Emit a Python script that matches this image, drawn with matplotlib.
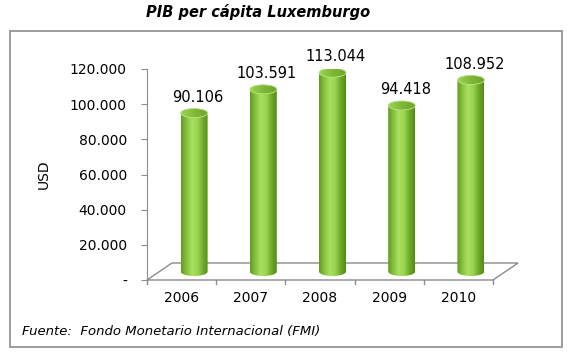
import numpy as np
import matplotlib
matplotlib.use("Agg")
import matplotlib.pyplot as plt
from matplotlib.path import Path
from matplotlib.patches import PathPatch, Ellipse, Polygon, Rectangle
from matplotlib.colors import LinearSegmentedColormap

# ==== DATA ====
years  = ["2006", "2007", "2008", "2009", "2010"]
values = [90106, 103591, 113044, 94418, 108952]
labels = ["90.106", "103.591", "113.044", "94.418", "108.952"]
yticks = [0, 20000, 40000, 60000, 80000, 100000, 120000]
ytick_labels = ["-", "20.000", "40.000", "60.000", "80.000", "100.000", "120.000"]

# ==== LAYOUT (pixels of a 572x354 figure) ====
W, H = 572, 354
fig = plt.figure(figsize=(W / 100, H / 100), dpi=100)
plt.rcParams['font.family'] = ['DejaVu Sans']

# outer frame round chart + footer
fig.patches.append(Rectangle((10 / W, (H - 347) / H), 552 / W, 316 / H,
                             transform=fig.transFigure, fill=False,
                             edgecolor="#8c8c8c", linewidth=1.2))

fig.text(258 / W, 1 - 12 / H, "PIB per cápita Luxemburgo", ha="center", va="center",
         fontsize=10.5, fontweight="bold", style="italic")
fig.text(22 / W, 1 - 332 / H, "Fuente:  Fondo Monetario Internacional (FMI)",
         ha="left", va="center", fontsize=9.5, style="italic")

ax = fig.add_axes([147 / W, (H - 280) / H, 346 / W, 211 / H])
ax.set_xlim(0, 5)
ax.set_ylim(0, 120000)
for s in ["top", "right", "bottom"]:
    ax.spines[s].set_visible(False)
ax.spines["left"].set_color("#8c8c8c")
ax.set_yticks(yticks)
ax.set_yticklabels(ytick_labels, fontsize=10)
ax.tick_params(axis="y", length=4, color="#8c8c8c", pad=10.5)
ax.set_xticks([])
ax.set_ylabel("USD", fontsize=10, labelpad=14)
ax.patch.set_visible(False)

# depth offsets of the 3D floor, in data units
dx = 25 / 69.2
dy = 17 / 211 * 120000

# floor
floor = Polygon([(0, 0), (5, 0), (5 + dx, dy), (dx, dy)], closed=True,
                facecolor="none", edgecolor="#8c8c8c", linewidth=1.0, clip_on=False)
ax.add_patch(floor)
for i in range(6):
    ax.plot([i, i], [0, -2400], color="#8c8c8c", linewidth=1.0, clip_on=False)
for i, yr in enumerate(years):
    ax.text(i + 0.5, -10000, yr, ha="center", va="center", fontsize=10)

# ==== CYLINDERS ====
body_cmap = LinearSegmentedColormap.from_list(
    "body", ["#5f9a22", "#86c23e", "#a9e060", "#9ad450", "#6eaa2a", "#528a18"])
top_cmap = LinearSegmentedColormap.from_list(
    "top", ["#9fd558", "#7fb737", "#6ea52a"])

bw = 27 / 69.2                       # bar width in category units
eh = 9 / 211 * 120000                # ellipse height in value units
base = dy / 2
grad = np.linspace(0, 1, 256).reshape(1, -1)

for i, v in enumerate(values):
    cx = i + 0.5 + dx / 2
    x0, x1 = cx - bw / 2, cx + bw / 2
    top = base + v
    t = np.linspace(np.pi, 2 * np.pi, 40)
    bottom_arc = [(cx + bw / 2 * np.cos(a), base + eh / 2 * np.sin(a)) for a in t]
    top_arc = [(cx + bw / 2 * np.cos(a), top + eh / 2 * np.sin(a)) for a in t][::-1]
    verts = [(x0, top)] + bottom_arc + [(x1, top)] + top_arc[1:] + [(x0, top)]
    path = Path(verts)
    clip = PathPatch(path, facecolor="none", edgecolor="none", transform=ax.transData)
    ax.add_patch(clip)
    im = ax.imshow(grad, cmap=body_cmap, aspect="auto",
                   extent=[x0, x1, base - eh, top + eh], zorder=3)
    im.set_clip_path(clip)

    ell = Ellipse((cx, top), bw, eh, transform=ax.transData,
                  facecolor="none", edgecolor="none")
    ax.add_patch(ell)
    im2 = ax.imshow(grad, cmap=top_cmap, aspect="auto",
                    extent=[x0, x1, top - eh, top + eh], zorder=4)
    im2.set_clip_path(ell)
    ax.add_patch(Ellipse((cx, top), bw, eh, facecolor="none",
                         edgecolor="#b5e27a", linewidth=0.6, zorder=5))

    ax.text(cx + 0.05, top + 9000, labels[i], ha="center", va="center",
            fontsize=10.5, zorder=6)

ax.set_xlim(0, 5)
ax.set_ylim(0, 120000)

fig.savefig("out.png", dpi=100)
